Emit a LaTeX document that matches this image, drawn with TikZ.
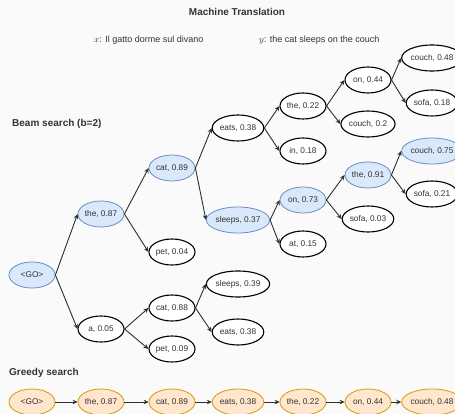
\documentclass[tikz,border=0pt]{standalone}
\usepackage[no-math]{fontspec}
\setmainfont{Liberation Sans}
\usetikzlibrary{shapes.geometric,arrows.meta}
\definecolor{bgc}{RGB}{250,250,250}
\definecolor{txt}{RGB}{51,51,51}
\definecolor{edgec}{RGB}{40,48,52}
\definecolor{bluefill}{HTML}{DAE8FC}
\definecolor{bluedraw}{HTML}{6C8EBF}
\definecolor{orgfill}{HTML}{FFE6CC}
\definecolor{orgdraw}{HTML}{D79B00}
\tikzset{
  tok/.style={ellipse, draw=black, fill=white, line width=1.1pt,
    minimum width=46pt, minimum height=26pt, inner sep=0pt,
    text=txt, font=\fontsize{8.3}{9}\selectfont},
  kept/.style={tok, draw=bluedraw, fill=bluefill, line width=0.8pt},
  greedy/.style={tok, draw=orgdraw, fill=orgfill, line width=0.8pt},
  link/.style={draw=edgec, line width=0.9pt, -{Stealth[length=5pt,width=4.5pt]}},
  heading/.style={text=txt, font=\fontsize{10}{12}\selectfont\bfseries, inner sep=0pt},
  caption/.style={text=txt, font=\fontsize{9}{11}\selectfont, inner sep=0pt, anchor=west}
}
\begin{document}
\begin{tikzpicture}[x=1pt,y=-1pt]
\fill[bgc] (0,0) rectangle (455,414);
\useasboundingbox (0,0) rectangle (455,414);

% titles
\node[heading] (title) at (237,12) {Machine Translation};
\node[caption] (src) at (94,40) {$x$: Il gatto dorme sul divano};
\node[caption] (tgt) at (259,40) {$y$: the cat sleeps on the couch};
\node[heading, anchor=west] (beamlbl) at (12,124) {Beam search (b=2)};
\node[heading, anchor=west] (greedylbl) at (9,373) {Greedy search};

% beam search tree
\node[kept] (go) at (32,275) {<GO>};
\node[kept] (the1) at (101,214) {the, 0.87};
\node[tok]  (a1) at (101,329) {a, 0.05};
\node[kept] (cat1) at (172,168) {cat, 0.89};
\node[tok]  (pet1) at (172,252) {pet, 0.04};
\node[tok]  (cat2) at (172,308) {cat, 0.88};
\node[tok]  (pet2) at (172,349) {pet, 0.09};
\node[tok]  (eats1) at (238,128) {eats, 0.38};
\node[kept] (sleeps1) at (238,220) {sleeps, 0.37};
\node[tok]  (sleeps2) at (238,284) {sleeps, 0.39};
\node[tok]  (eats2) at (238,332) {eats, 0.38};
\node[tok]  (the2) at (303,106) {the, 0.22};
\node[tok]  (in1) at (303,151) {in, 0.18};
\node[kept] (on1) at (303,200) {on, 0.73};
\node[tok]  (at1) at (303,244) {at, 0.15};
\node[tok]  (on2) at (368,80) {on, 0.44};
\node[tok]  (couch1) at (368,124) {couch, 0.2};
\node[kept] (the3) at (368,175) {the, 0.91};
\node[tok]  (sofa1) at (368,219) {sofa, 0.03};
\node[tok]  (couch2) at (432,58) {couch, 0.48};
\node[tok]  (sofa2) at (432,103) {sofa, 0.18};
\node[kept] (couch3) at (432,151) {couch, 0.75};
\node[tok]  (sofa3) at (432,194) {sofa, 0.21};

\foreach \p/\c in {go/the1, go/a1, the1/cat1, the1/pet1, a1/cat2, a1/pet2,
    cat1/eats1, cat1/sleeps1, cat2/sleeps2, cat2/eats2,
    eats1/the2, eats1/in1, sleeps1/on1, sleeps1/at1,
    the2/on2, the2/couch1, on1/the3, on1/sofa1,
    on2/couch2, on2/sofa2, the3/couch3, the3/sofa3}
  \draw[link] (\p.east) -- (\c.west);

% greedy search chain
\node[greedy] (g0) at (32,402) {<GO>};
\node[greedy] (g1) at (101,402) {the, 0.87};
\node[greedy] (g2) at (172,402) {cat, 0.89};
\node[greedy] (g3) at (238,402) {eats, 0.38};
\node[greedy] (g4) at (303,402) {the, 0.22};
\node[greedy] (g5) at (368,402) {on, 0.44};
\node[greedy] (g6) at (432,402) {couch, 0.48};
\foreach \p/\c in {g0/g1, g1/g2, g2/g3, g3/g4, g4/g5, g5/g6}
  \draw[link] (\p.east) -- (\c.west);
\end{tikzpicture}
\end{document}
